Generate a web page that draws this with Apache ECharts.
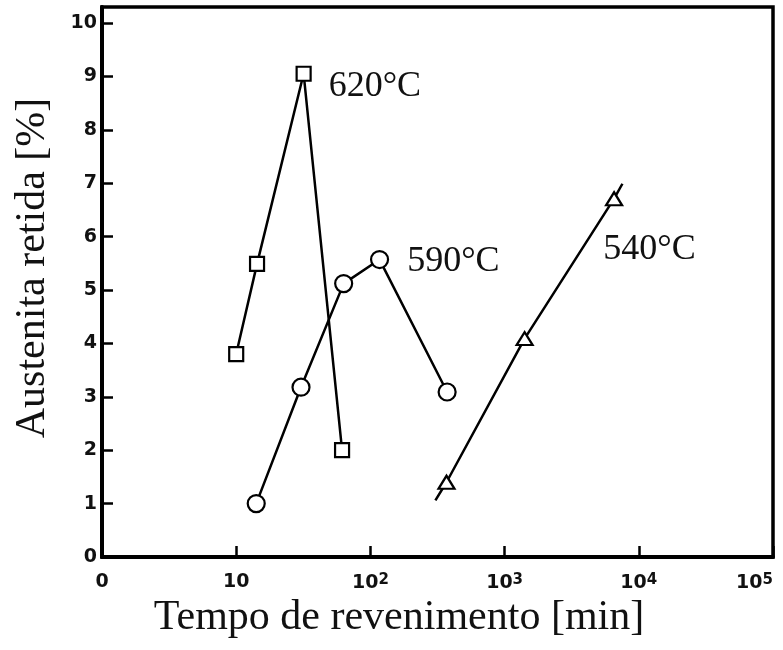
<!DOCTYPE html>
<html>
<head>
<meta charset="utf-8">
<script src="https://cdn.jsdelivr.net/npm/echarts@6/dist/echarts.min.js"></script>
<style>
  html, body { margin: 0; padding: 0; background: #fff; }
  #chart { width: 783px; height: 650px; }
</style>
</head>
<body>
<div id="chart"></div>
<script>
// Retained austenite vs. tempering time, three tempering temperatures
const seriesNames = ['620°C', '590°C', '540°C'];

const time620 = [10, 14.3, 31.8, 61.5];
const ret620  = [3.80, 5.49, 9.05, 2.00];

const time590 = [14.1, 30.4, 63.2, 117, 373];
const ret590  = [1.00, 3.18, 5.12, 5.57, 3.09];

const time540 = [369, 1410, 6545];
const ret540  = [1.40, 4.09, 6.71];
// the 540°C line runs a little past its first and last points
const tail540Time = [305, 7550];
const tail540Ret  = [1.06, 6.99];

// x tick labels by decade exponent: base text and superscript
const xTickBase = ['0', '10', '10', '10', '10', '10'];
const xTickExp  = ['', '', '2', '3', '4', '5'];

const xTitle = 'Tempo de revenimento [min]';
const yTitle = 'Austenita retida [%]';

function pairs(xs, ys) { return xs.map((x, i) => [x, ys[i]]); }

const markerStyle = { color: '#fff', borderColor: '#000', borderWidth: 2.2 };
const lineStyle = { color: '#000', width: 2.5 };
const tempLabel = (text, dx, dy) => ({
  show: true, position: 'right', distance: 0, offset: [dx, dy],
  formatter: text, color: '#111',
  fontFamily: 'Liberation Serif', fontSize: 36
});

const data620 = pairs(time620, ret620).map((p, i) =>
  i === 2 ? { value: p, label: tempLabel(seriesNames[0], 17, 13) } : p);
const data590 = pairs(time590, ret590).map((p, i) =>
  i === 3 ? { value: p, label: tempLabel(seriesNames[1], 18, 2) } : p);
const pts540 = pairs(time540, ret540).map((p, i) =>
  i === 2 ? { value: p, label: tempLabel(seriesNames[2], -20, 51) } : p);
const data540 = [
  { value: [tail540Time[0], tail540Ret[0]], symbol: 'none' },
  ...pts540,
  { value: [tail540Time[1], tail540Ret[1]], symbol: 'none' }
];

const chart = echarts.init(document.getElementById('chart'), null, { renderer: 'canvas' });

const tickFont = { fontFamily: 'DejaVu Sans', fontWeight: 'bold', fontSize: 19, color: '#111' };

chart.setOption({
  animation: false,
  backgroundColor: '#fff',
  grid: {
    left: 102, right: 10, top: 7, bottom: 93,
    outerBoundsMode: 'none', containLabel: false,
    show: true, borderColor: '#000', borderWidth: 3.5, backgroundColor: 'transparent'
  },
  xAxis: {
    type: 'log', logBase: 10, min: 1, max: 100000,
    axisLine: { show: true, lineStyle: { color: '#000', width: 4 } },
    axisTick: { show: true, inside: true, length: 11, lineStyle: { color: '#000', width: 2.5 } },
    splitLine: { show: false },
    minorTick: { show: false },
    axisLabel: Object.assign({
      margin: 16,
      alignMaxLabel: 'right',
      formatter: function (v) {
        const e = Math.round(Math.log10(v));
        if (!xTickExp[e]) return xTickBase[e];
        return '{b|' + xTickBase[e] + '}{s|' + xTickExp[e] + '}';
      },
      rich: {
        b: Object.assign({ lineHeight: 20, padding: [5, 0, 0, 0], verticalAlign: 'bottom' }, tickFont),
        s: Object.assign({}, tickFont, { fontSize: 15, lineHeight: 16, verticalAlign: 'top' })
      }
    }, tickFont)
  },
  yAxis: {
    type: 'value', min: 0, max: 10.3, interval: 1,
    axisLine: { show: true, lineStyle: { color: '#000', width: 4 } },
    axisTick: { show: true, inside: true, length: 11, lineStyle: { color: '#000', width: 2.5 } },
    splitLine: { show: false },
    axisLabel: Object.assign({ margin: 5, showMaxLabel: false,
      formatter: v => (Number.isInteger(v) ? String(v) : '') }, tickFont)
  },
  series: [
    { name: seriesNames[0], type: 'line', data: data620, symbol: 'rect', symbolSize: 14,
      lineStyle: lineStyle, itemStyle: markerStyle, z: 3 },
    { name: seriesNames[1], type: 'line', data: data590, symbol: 'circle', symbolSize: 17,
      lineStyle: lineStyle, itemStyle: markerStyle, z: 2 },
    { name: seriesNames[2], type: 'line', data: data540, symbol: 'triangle', symbolSize: [16, 13],
      lineStyle: lineStyle, itemStyle: markerStyle, z: 2 }
  ],
  graphic: [
    { type: 'text', x: 399, y: 618, z: 10,
      style: { text: xTitle, fontFamily: 'Liberation Serif', fontSize: 42, fill: '#111',
               align: 'center', verticalAlign: 'middle' } },
    { type: 'text', x: 33, y: 268, rotation: Math.PI / 2, z: 10,
      style: { text: yTitle, fontFamily: 'Liberation Serif', fontSize: 42, fill: '#111',
               align: 'center', verticalAlign: 'middle' } }
  ]
});
</script>
</body>
</html>
